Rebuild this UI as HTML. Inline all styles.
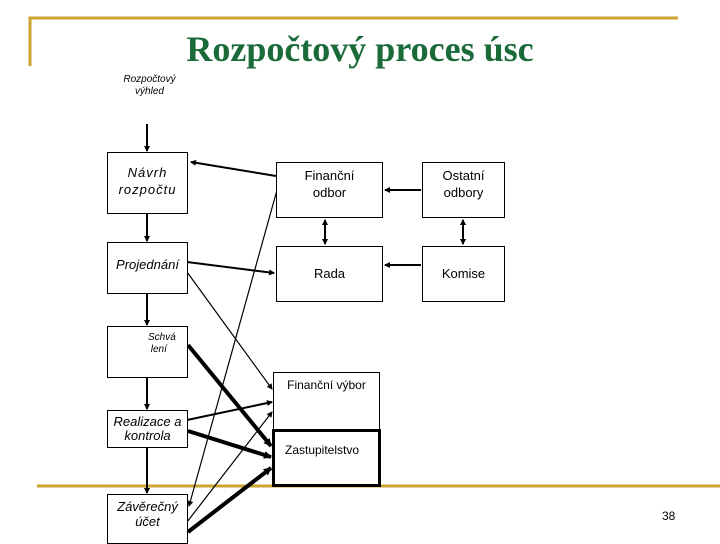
<!DOCTYPE html>
<html><head><meta charset="utf-8"><style>
body{margin:0;width:720px;height:540px;background:#fff;overflow:hidden;position:relative;font-family:"Liberation Sans",sans-serif}
.b{position:absolute;border:1px solid #000;background:#fff;box-sizing:border-box;text-align:center;font-size:13px;line-height:17px}
.t{position:absolute;font-size:10px;font-style:italic;text-align:center;line-height:12px}
</style></head><body>
<svg width="720" height="540" style="position:absolute;left:0;top:0">
<defs><marker id="a" markerWidth="6" markerHeight="6" refX="5" refY="3" orient="auto-start-reverse" markerUnits="userSpaceOnUse"><path d="M0,0L6,3L0,6z"/></marker>
<marker id="a2" markerWidth="8" markerHeight="8" refX="7" refY="4" orient="auto" markerUnits="userSpaceOnUse"><path d="M0,0L8,4L0,8z"/></marker></defs>
<path d="M30,66V18H678" stroke="#c8a42c" stroke-width="3" fill="none"/>
<path d="M37,486H720" stroke="#c8a42c" stroke-width="3"/>
<g stroke="#000" stroke-width="2" marker-end="url(#a)">
<line x1="147" y1="124" x2="147" y2="151"/>
<line x1="147" y1="214" x2="147" y2="241"/>
<line x1="147" y1="294" x2="147" y2="325"/>
<line x1="147" y1="378" x2="147" y2="409"/>
<line x1="147" y1="448" x2="147" y2="493"/>
<line x1="276" y1="176" x2="191" y2="162"/>
<line x1="187" y1="262" x2="274" y2="273"/>
<line x1="421" y1="190" x2="385" y2="190"/>
<line x1="421" y1="265" x2="385" y2="265"/>
<line x1="187" y1="420" x2="272" y2="402"/>
</g>
<g stroke="#000" stroke-width="1.2" marker-end="url(#a)">
<line x1="277" y1="190" x2="189" y2="506"/>
<line x1="187" y1="272" x2="272" y2="389"/>
<line x1="187" y1="522" x2="272" y2="412"/>
</g>
<g stroke="#000" stroke-width="2" marker-start="url(#a)" marker-end="url(#a)">
<line x1="325" y1="220" x2="325" y2="244"/>
<line x1="463" y1="220" x2="463" y2="244"/>
</g>
<g stroke="#000" stroke-width="4" marker-end="url(#a2)">
<line x1="188" y1="345" x2="271" y2="446"/>
<line x1="188" y1="431" x2="271" y2="457"/>
<line x1="188" y1="532" x2="271" y2="468"/>
</g>
</svg>
<div style="position:absolute;left:0;width:720px;top:29px;text-align:center;font-family:'Liberation Serif',serif;font-weight:bold;font-size:36px;line-height:40px;color:#1a6a3a">Rozpočtový proces úsc</div>
<div class="t" style="left:112px;top:74px;width:75px">Rozpočtový<br>výhled</div>
<div class="b" style="left:107px;top:152px;width:81px;height:62px;font-style:italic;padding-top:11px;letter-spacing:1px">Návrh<br>rozpočtu</div>
<div class="b" style="left:107px;top:242px;width:81px;height:52px;font-style:italic;padding-top:13px">Projednání</div>
<div class="b" style="left:107px;top:326px;width:81px;height:52px;font-size:10px;line-height:12px;font-style:italic;padding:5px 0 0 40px;text-align:left">Schvá<br>&nbsp;lení</div>
<div class="b" style="left:107px;top:410px;width:81px;height:38px;font-style:italic;line-height:14px;padding-top:4px">Realizace a kontrola</div>
<div class="b" style="left:107px;top:494px;width:81px;height:50px;font-style:italic;line-height:15px;padding-top:4px">Závěrečný<br>účet</div>
<div class="b" style="left:276px;top:162px;width:107px;height:56px;padding-top:4px">Finanční<br>odbor</div>
<div class="b" style="left:422px;top:162px;width:83px;height:56px;padding-top:4px">Ostatní<br>odbory</div>
<div class="b" style="left:276px;top:246px;width:107px;height:56px;padding-top:18px">Rada</div>
<div class="b" style="left:422px;top:246px;width:83px;height:56px;padding-top:18px">Komise</div>
<div class="b" style="left:273px;top:372px;width:107px;height:60px;font-size:12px;padding-top:4px">Finanční výbor</div>
<div class="b" style="left:272px;top:429px;width:109px;height:58px;border:3px solid #000;font-size:12px;padding-top:10px;text-align:left;padding-left:10px">Zastupitelstvo</div>
<div style="position:absolute;left:662px;top:509px;font-size:12px">38</div>
</body></html>
